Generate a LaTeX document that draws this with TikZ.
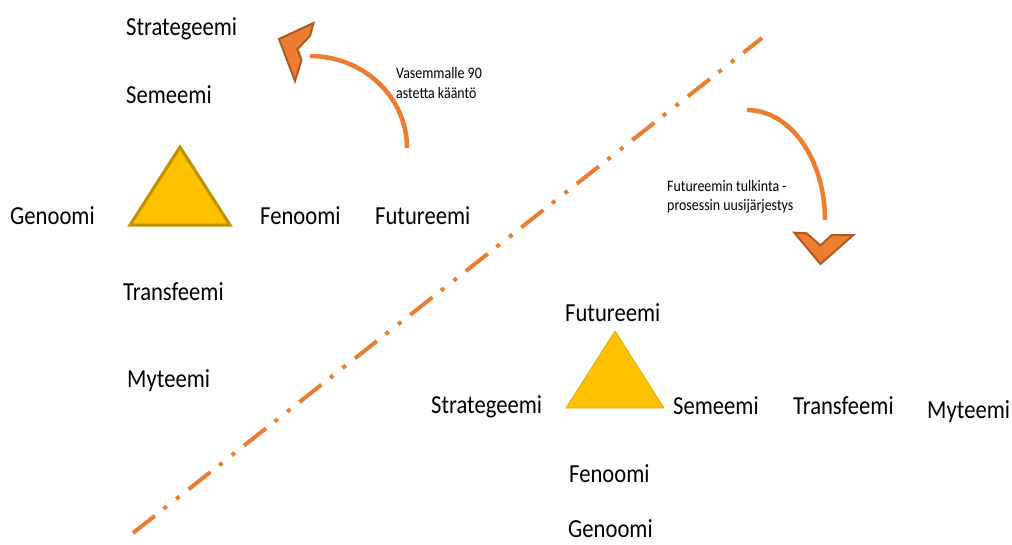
\documentclass[tikz,border=0pt]{standalone}
\usepackage{fontspec}
\setmainfont{Carlito}
\newfontfamily\lblfont[FakeStretch=0.87]{Carlito}
\begin{document}
\begin{tikzpicture}[x=1pt,y=-1pt,
  lbl/.style={anchor=base west,inner sep=0pt,font=\lblfont\fontsize{26}{30}\selectfont,text=black},
  note/.style={anchor=base west,inner sep=0pt,font=\lblfont\fontsize{16}{19}\selectfont,text=black},
  tri1/.style={fill=triyellow,draw=trigold,line width=3pt,line join=miter},
  tri2/.style={fill=triyellow,draw=triyellow!90!black,line width=0.8pt,line join=miter},
  turn/.style={draw=orangeA,line width=4.5pt},
  headshape/.style={fill=orangeA,draw=orangeD,line width=2pt,line join=miter},
  dashline/.style={draw=orangeA,line width=4pt,dash pattern=on 28pt off 11pt on 4pt off 12pt on 4pt off 11.6pt}
]
\definecolor{orangeA}{HTML}{ED7D31}
\definecolor{orangeD}{HTML}{AE5A21}
\definecolor{triyellow}{HTML}{FFC000}
\definecolor{trigold}{HTML}{BF9000}
\useasboundingbox (0,0) rectangle (1012,544);

% diagonal dash-dot-dot line
\coordinate (dA) at (133,533);
\coordinate (dB) at (762,38);
\draw[dashline] (dA) -- (dB);

% triangles
\draw[tri1] (180,147) -- (230,225) -- (130,225) -- cycle;
\draw[tri2] (615,331) -- (664,408) -- (566,408) -- cycle;

% left arrangement
\node[lbl] (strat1) at (126,35) {Strategeemi};
\node[lbl] (sem1) at (126,103) {Semeemi};
\node[lbl] (gen1) at (10,224) {Genoomi};
\node[lbl] (fen1) at (260,224) {Fenoomi};
\node[lbl] (fut1) at (375,224) {Futureemi};
\node[lbl] (tra1) at (123,300) {Transfeemi};
\node[lbl] (myt1) at (127,387) {Myteemi};

% right arrangement
\node[lbl] (fut2) at (565,321) {Futureemi};
\node[lbl] (strat2) at (431,413) {Strategeemi};
\node[lbl] (sem2) at (673,414) {Semeemi};
\node[lbl] (tra2) at (793,414) {Transfeemi};
\node[lbl] (myt2) at (927,418) {Myteemi};
\node[lbl] (fen2) at (569,482) {Fenoomi};
\node[lbl] (gen2) at (568,537) {Genoomi};

% notes
\node[note] (n1a) at (396,78) {Vasemmalle 90};
\node[note] (n1b) at (396,98) {astetta kääntö};
\node[note] (n2a) at (667,191) {Futureemin tulkinta -};
\node[note] (n2b) at (667,210) {prosessin uusijärjestys};

% turn arrow 1 (left, upward)
\coordinate (a1s) at (407,148);
\draw[turn] (a1s) arc[start angle=0,end angle=-90,x radius=97,y radius=92];
\draw[headshape] (279,39) -- (313.5,23) -- (310,36) -- (297.5,49) -- (301.5,60) -- (295,81) -- cycle;

% turn arrow 2 (right, downward)
\coordinate (a2s) at (747,110);
\draw[turn] (a2s) arc[start angle=-90,end angle=0,x radius=78,y radius=110];
\draw[headshape] (794.3,232.7) -- (806.7,233.3) -- (820.5,245.5) -- (831.7,235) -- (853.3,235) -- (820.5,264) -- cycle;
\end{tikzpicture}
\end{document}
